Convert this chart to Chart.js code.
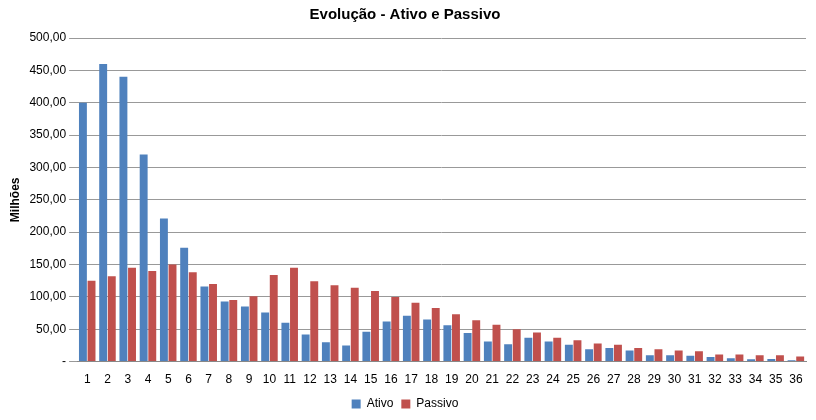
<!DOCTYPE html><html><head><meta charset="utf-8"><script src="https://cdn.jsdelivr.net/npm/chart.js@4"></script>
<style>body{margin:0;background:#fff}#w{width:816px;height:420px}</style></head><body><div id="w"><canvas id="c"></canvas></div>
<script>
const categories=Array.from({length:36},(_,i)=>String(i+1));
const ativo=[400,460,440,320,221,176,116,93,85,76,60,42,30,25,46,62,71,65,56,44,31,27,37,31,26,19,21,17,10,10,9,7,5,3.5,4,2];
const passivo=[125,132,145,140,150,138,120,95,101,134,145,124,118,114,109,100,91,83,73,64,57,50,45,37,33,28,26,21,19,17,16,11,11,10,10,8];
new Chart(document.getElementById('c'),{type:'bar',data:{labels:categories,datasets:[
{label:'Ativo',data:ativo,backgroundColor:'#4f81bd'},
{label:'Passivo',data:passivo,backgroundColor:'#c0504d'}]},
options:{responsive:true,maintainAspectRatio:false,animation:false,
layout:{padding:{left:4,right:10,top:0,bottom:0}},
datasets:{bar:{categoryPercentage:0.85,barPercentage:0.92}},
plugins:{title:{display:true,text:'Evolução - Ativo e Passivo',font:{family:'Liberation Sans',size:15,weight:'bold'},color:'#000',padding:{top:6,bottom:14}},
legend:{position:'bottom',labels:{boxWidth:9,boxHeight:9,font:{family:'Liberation Sans',size:12},color:'#000',padding:8}}},
scales:{x:{grid:{display:false},border:{color:'#888'},ticks:{color:'#000',font:{family:'Liberation Sans',size:12},maxRotation:0,autoSkip:false}},
y:{min:0,max:500,ticks:{stepSize:50,color:'#000',font:{family:'Liberation Sans',size:12},callback:v=>v===0?'-':v.toFixed(2).replace('.',',')},
grid:{color:'#999'},border:{display:false},title:{display:true,text:'Milhões',font:{family:'Liberation Sans',size:12,weight:'bold'},color:'#000'}}}}});
</script></body></html>
